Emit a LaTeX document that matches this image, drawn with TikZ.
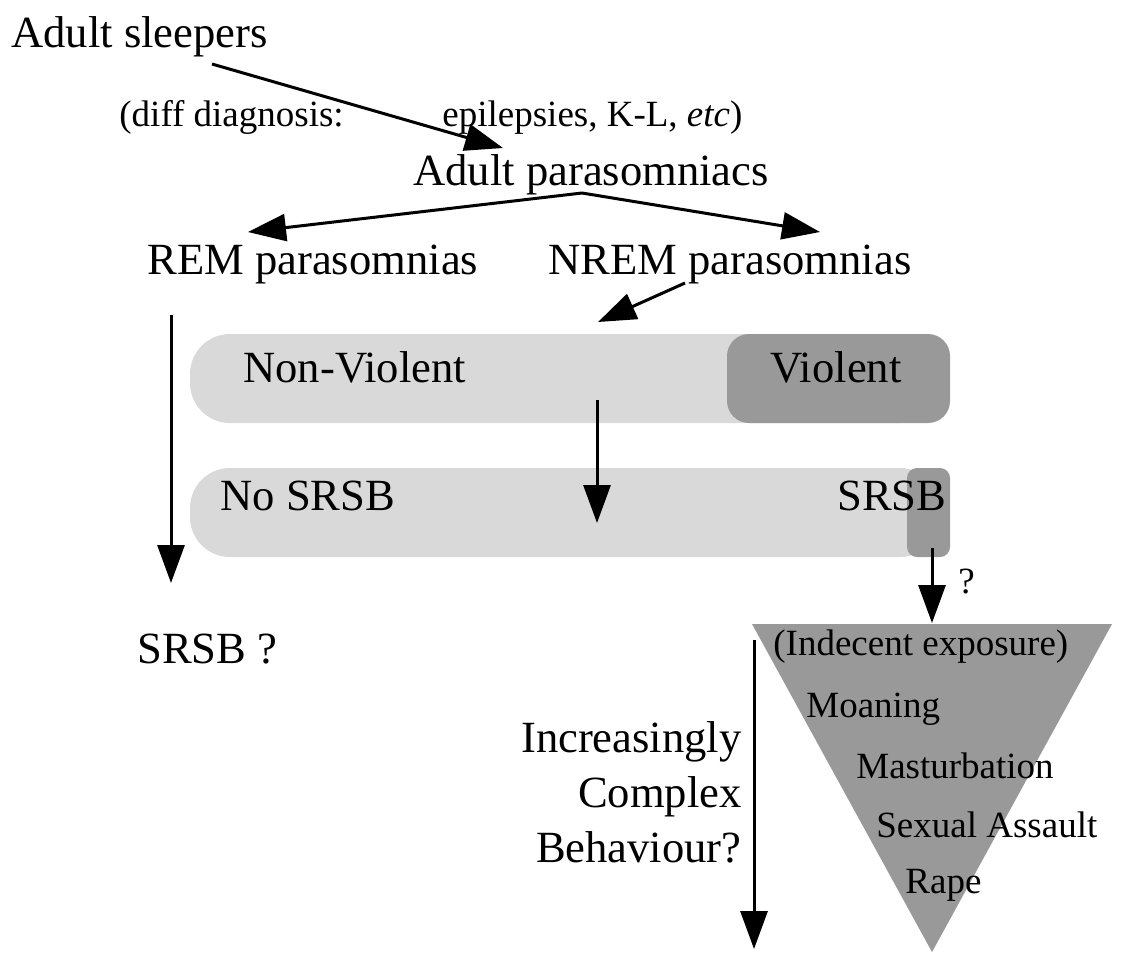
\documentclass[tikz,border=0pt]{standalone}
\usepackage{fontspec}
\setmainfont{Liberation Serif}
\usetikzlibrary{arrows.meta,positioning}

\begin{document}
\begin{tikzpicture}[
    x=0.5pt, y=-0.5pt,
    biglabel/.style={inner sep=0pt, anchor=base west, font=\fontsize{22.3}{27.5}\selectfont},
    smalllabel/.style={inner sep=0pt, anchor=base west, font=\fontsize{18.5}{22}\selectfont},
    arrow/.style={-{Triangle[length=19pt, width=13.5pt]}, line width=1.5pt},
    bar/.style={fill=black!15, rounded corners=20pt},
    band/.style={fill=black!40, rounded corners=11pt},
    slice/.style={fill=black!40, rounded corners=5pt}
]
\useasboundingbox (0,0) rectangle (1122,955);

% Top of the tree
\node[biglabel] (sleepers) at (11,47) {Adult sleepers};
\node[smalllabel] (diff) at (119,126) {(diff diagnosis:};
\node[smalllabel] (epi) at (442,126) {epilepsies, K-L, \textit{etc})};
\node[biglabel] (parasomniacs) at (413,185) {Adult parasomniacs};
\node[biglabel] (rem) at (147,274) {REM parasomnias};
\node[biglabel] (nrem) at (548,274) {NREM parasomnias};

% Bars
\fill[bar] (190,334) rectangle (940,423);
\fill[band] (727,334) rectangle (950,423);
\fill[bar] (190,468) rectangle (940,557);
\fill[slice] (907,468) rectangle (950,557);

\node[biglabel] (nonviolent) at (243,382) {Non-Violent};
\node[biglabel] (violent) at (770,382) {Violent};
\node[biglabel] (nosrsb) at (220,510) {No SRSB};
\node[biglabel] (srsb) at (837,510) {SRSB};
\node[biglabel] (remsrsb) at (137,663) {SRSB ?};

% Funnel of behaviours
\fill[black!40] (752,624) -- (1112,624) -- (932,952) -- cycle;
\node[smalllabel] (exposure) at (773,655) {(Indecent exposure)};
\node[smalllabel] (moaning) at (806,717) {Moaning};
\node[smalllabel] (masturbation) at (856,778) {Masturbation};
\node[smalllabel] (assault) at (876,837) {Sexual Assault};
\node[smalllabel] (rape) at (905,893) {Rape};
\node[smalllabel] (query) at (958,593) {?};

\node[biglabel, anchor=base east, align=right] (complex) at (742,862)
    {Increasingly\\Complex\\Behaviour?};

% Arrow ends
\coordinate (sleepersout) at (212,64);
\coordinate (parain) at (503,148);
\coordinate (paraout) at (582,193);
\coordinate (remin) at (248,232);
\coordinate (nremin) at (820,232);
\coordinate (nremout) at (685,283);
\coordinate (barin) at (598,322);
\coordinate (remout) at (171,315);
\coordinate (remend) at (171,583);
\coordinate (bartop) at (597,400);
\coordinate (barlow) at (597,523);
\coordinate (srsbout) at (932,548);
\coordinate (funnel) at (932,623);
\coordinate (scaletop) at (754,640);
\coordinate (scalelow) at (754,949);

\draw[arrow] (sleepersout) -- (parain);
\draw[arrow] (paraout) -- (remin);
\draw[arrow] (paraout) -- (nremin);
\draw[arrow] (nremout) -- (barin);
\draw[arrow] (remout) -- (remend);
\draw[arrow] (bartop) -- (barlow);
\draw[arrow] (srsbout) -- (funnel);
\draw[arrow] (scaletop) -- (scalelow);

\end{tikzpicture}
\end{document}
